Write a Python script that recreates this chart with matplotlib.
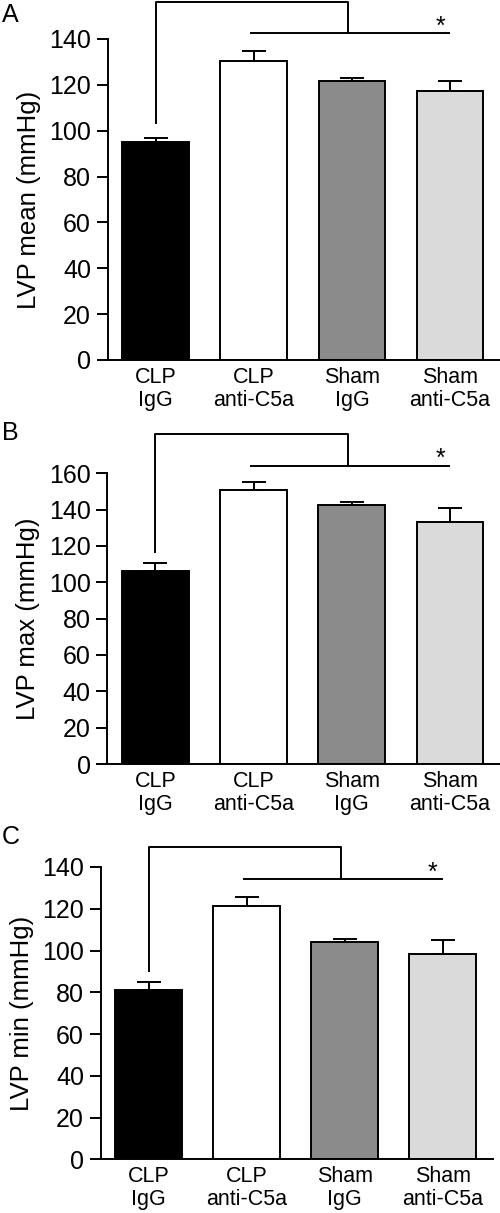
import numpy as np
import matplotlib
matplotlib.use("Agg")
import matplotlib.pyplot as plt

plt.rcParams['font.family'] = ['Liberation Sans', 'DejaVu Sans']

# group labels and bar colours
groups = ["CLP\nIgG", "CLP\nanti-C5a", "Sham\nIgG", "Sham\nanti-C5a"]
bar_colors = ["#000000", "#ffffff", "#8b8b8b", "#dadada"]

# values (mean + upper SEM)
lvp_mean = [95.0, 130.4, 121.8, 117.4]
lvp_mean_err = [1.8, 4.4, 1.3, 4.3]
lvp_max = [106.1, 151.0, 142.5, 133.0]
lvp_max_err = [4.3, 4.4, 1.8, 7.9]
lvp_min = [80.9, 121.2, 104.1, 98.2]
lvp_min_err = [4.0, 4.6, 1.6, 7.0]

W, H = 500, 1213
fig = plt.figure(figsize=(W / 100, H / 100), dpi=100)

# panel: label, values, errors, ylabel, ymax, ystep, axes box in pixels (left, right, top, bottom),
# bracket (top, left bottom, lower line y, star top), label top pixel
panels = [
    ("A", lvp_mean, lvp_mean_err, "LVP mean (mmHg)", 140, 20,
     (107.7, 500, 39, 360), (156.3, 103.5, 142.6, 150.5), 3),
    ("B", lvp_max, lvp_max_err, "LVP max (mmHg)", 160, 20,
     (107.3, 500, 473.3, 764), (181.6, 116.8, 164.0, 174.6), 421),
    ("C", lvp_min, lvp_min_err, "LVP min (mmHg)", 140, 20,
     (100.7, 492.7, 867, 1159.3), (149.7, 90.3, 134.4, 142.9), 825),
]

x = np.arange(len(groups))
lw = 1.4

for label, vals, errs, ylabel, ymax, ystep, box, br, label_y in panels:
    left, right, top, bottom = box
    ax = fig.add_axes([left / W, 1 - bottom / H, (right - left) / W, (bottom - top) / H])
    ax.bar(x, vals, width=0.68, color=bar_colors, edgecolor="black", linewidth=lw, zorder=2)
    ax.errorbar(x, vals, yerr=[np.zeros(len(errs)), errs], fmt="none", ecolor="black",
                elinewidth=lw, capsize=8.6, capthick=lw, zorder=1)
    ax.set_xlim(-0.49, 3.51)
    ax.set_ylim(0, ymax)
    ax.set_yticks(np.arange(0, ymax + 1, ystep))
    ax.set_xticks(x)
    ax.set_xticklabels(groups, fontsize=15.5, linespacing=1.1)
    ax.tick_params(axis="x", length=0, pad=5)
    ax.tick_params(axis="y", length=8, width=lw, labelsize=18, pad=4)
    for s in ["top", "right"]:
        ax.spines[s].set_visible(False)
    for s in ["left", "bottom"]:
        ax.spines[s].set_linewidth(lw)
    ax.set_ylabel(ylabel, fontsize=18.5, labelpad=6)

    # significance bracket
    btop, bleft, blow, star = br
    ax.plot([0, 0, 1.96, 1.96], [bleft, btop, btop, blow], color="black", lw=lw, clip_on=False)
    ax.plot([0.975, 2.99], [blow, blow], color="black", lw=lw, clip_on=False)
    ax.text(2.9, star, "*", ha="center", va="top", fontsize=18, clip_on=False)

    fig.text(0.004, 1 - label_y / H, label, fontsize=18, va="top", ha="left")

fig.savefig("out.png", dpi=100)
